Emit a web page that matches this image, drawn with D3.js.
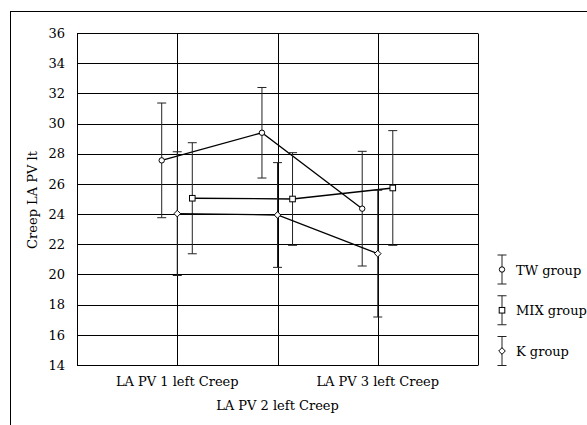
<!DOCTYPE html>
<html><head><meta charset="utf-8">
<script src="https://cdn.jsdelivr.net/npm/d3@7/dist/d3.min.js"></script>
<style>body{margin:0;background:#fff}svg{display:block}</style>
</head><body>
<script>
const categories = ["LA PV 1 left Creep", "LA PV 2 left Creep", "LA PV 3 left Creep"];
const seriesNames = ["TW group", "MIX group", "K group"];
const twValues = [27.56, 29.39, 24.36];
const twErrors = [3.8, 3.0, 3.8];
const mixValues = [25.05, 25.0, 25.73];
const mixErrors = [3.68, 3.07, 3.8];
const kValues = [24.03, 23.94, 21.38];
const kErrors = [4.1, 3.47, 4.2];
const yTicks = [14, 16, 18, 20, 22, 24, 26, 28, 30, 32, 34, 36];
const yTitle = "Creep LA PV lt";

(function () {
const series = [
  {name: seriesNames[0], values: twValues, errors: twErrors, marker: "circle", dodge: -0.155},
  {name: seriesNames[1], values: mixValues, errors: mixErrors, marker: "square", dodge: 0.15},
  {name: seriesNames[2], values: kValues, errors: kErrors, marker: "diamond", dodge: 0}
];

const W = 587, H = 425;
const svg = d3.select("body").append("svg").attr("width", W).attr("height", H);
const font = "DejaVu Serif, serif";
const fs = 13;

// outer frame
svg.append("rect").attr("x", 10.5).attr("y", 11.5).attr("width", 600).attr("height", 440)
  .attr("fill", "none").attr("stroke", "#000").attr("stroke-width", 1);

const pLeft = 77, pRight = 478, pTop = 33, pBottom = 365;
const x = d3.scaleLinear().domain([0, 4]).range([pLeft, pRight]);
const y = d3.scaleLinear().domain([14, 36]).range([pBottom, pTop]);

// horizontal gridlines
svg.append("g").selectAll("line").data(yTicks).join("line")
  .attr("x1", pLeft).attr("x2", pRight)
  .attr("y1", d => Math.round(y(d)) + 0.5).attr("y2", d => Math.round(y(d)) + 0.5)
  .attr("stroke", "#000").attr("stroke-width", 1);

// vertical gridlines + borders
svg.append("g").selectAll("line").data([0, 1, 2, 3, 4]).join("line")
  .attr("x1", d => Math.round(x(d)) + 0.5).attr("x2", d => Math.round(x(d)) + 0.5)
  .attr("y1", Math.round(y(36)) + 0.5).attr("y2", Math.round(y(14)) + 0.5)
  .attr("stroke", "#000").attr("stroke-width", 1);

// y tick labels
svg.append("g").selectAll("text").data(yTicks).join("text")
  .attr("x", 65).attr("y", d => y(d) + 4.7)
  .attr("text-anchor", "end").attr("font-family", font).attr("font-size", fs)
  .attr("fill", "#000").text(d => d);

// x tick labels (staggered)
svg.append("g").selectAll("text").data(categories).join("text")
  .attr("x", (d, i) => x(i + 1))
  .attr("y", (d, i) => i % 2 === 0 ? 386 : 410)
  .attr("text-anchor", "middle").attr("font-family", font).attr("font-size", fs)
  .attr("fill", "#000").text(d => d);

// y title
svg.append("text").attr("transform", "translate(37,200) rotate(-90)")
  .attr("text-anchor", "middle").attr("font-family", font).attr("font-size", fs)
  .attr("fill", "#000").text(yTitle);

function drawMarker(g, type, cx, cy) {
  if (type === "circle") {
    g.append("circle").attr("cx", cx).attr("cy", cy).attr("r", 2.7)
      .attr("fill", "#fff").attr("stroke", "#000").attr("stroke-width", 1);
  } else if (type === "square") {
    g.append("rect").attr("x", cx - 2.8).attr("y", cy - 2.8).attr("width", 5.6).attr("height", 5.6)
      .attr("fill", "#fff").attr("stroke", "#000").attr("stroke-width", 1);
  } else {
    const s = 3.3;
    g.append("path").attr("d", `M${cx},${cy - s}L${cx + s},${cy}L${cx},${cy + s}L${cx - s},${cy}Z`)
      .attr("fill", "#fff").attr("stroke", "#000").attr("stroke-width", 1);
  }
}

const capW = 4.5;
series.forEach(s => {
  const g = svg.append("g");
  const pts = s.values.map((v, i) => [x(i + 1 + s.dodge), y(v)]);
  s.values.forEach((v, i) => {
    const cx = x(i + 1 + s.dodge);
    const yt = y(v + s.errors[i]), yb = y(v - s.errors[i]);
    g.append("line").attr("x1", cx).attr("x2", cx).attr("y1", yt).attr("y2", yb)
      .attr("stroke", "#222").attr("stroke-width", 1);
    [yt, yb].forEach(yy => g.append("line").attr("x1", cx - capW).attr("x2", cx + capW)
      .attr("y1", yy).attr("y2", yy).attr("stroke", "#222").attr("stroke-width", 1));
  });
  g.append("path").attr("d", d3.line()(pts)).attr("fill", "none")
    .attr("stroke", "#000").attr("stroke-width", 1.3);
  pts.forEach(p => drawMarker(g, s.marker, p[0], p[1]));
});

// legend
const legY = d3.scaleLinear().domain([0, 2]).range([269.5, 351]);
series.forEach((s, i) => {
  const g = svg.append("g");
  const cy = legY(i), cx = 502;
  g.append("line").attr("x1", cx).attr("x2", cx).attr("y1", cy - 14.5).attr("y2", cy + 14.5)
    .attr("stroke", "#222").attr("stroke-width", 1);
  [cy - 14.5, cy + 14.5].forEach(yy => g.append("line").attr("x1", cx - capW).attr("x2", cx + capW)
    .attr("y1", yy).attr("y2", yy).attr("stroke", "#222").attr("stroke-width", 1));
  drawMarker(g, s.marker, cx, cy);
  g.append("text").attr("x", 516).attr("y", cy + 5).attr("font-family", font)
    .attr("font-size", fs).attr("fill", "#000").text(s.name);
});
})();
</script>
</body></html>
